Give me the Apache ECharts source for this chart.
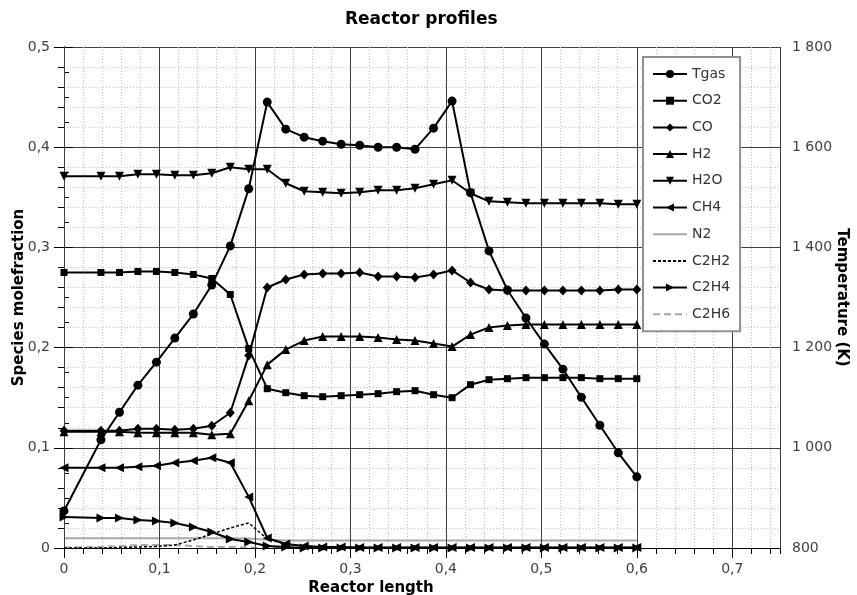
<!DOCTYPE html>
<html><head><meta charset="utf-8">
<script src="https://cdn.jsdelivr.net/npm/echarts@6/dist/echarts.min.js"></script>
<style>html,body{margin:0;padding:0;background:#fff}#c{width:857px;height:595px}</style>
</head><body><div id="c"></div>
<script>
// Reactor length positions (m)
const X = [0, 0.0387, 0.0581, 0.0774, 0.0968, 0.1161, 0.1355, 0.1548, 0.1742, 0.1935,
  0.2129, 0.2323, 0.2516, 0.2710, 0.2903, 0.3097, 0.3290, 0.3484, 0.3677, 0.3871,
  0.4065, 0.4258, 0.4452, 0.4645, 0.4839, 0.5032, 0.5226, 0.5419, 0.5613, 0.5806, 0.6];
// Gas temperature (K), right axis
const TGAS = [874, 1016, 1071, 1125, 1171, 1219, 1267, 1325, 1403, 1517,
  1690, 1636, 1620, 1612, 1606, 1604, 1600, 1600, 1596, 1638,
  1692, 1509, 1393, 1315, 1259, 1207, 1157, 1101, 1045, 990, 942];
// Species mole fractions, left axis
const CO2 = [0.275, 0.275, 0.275, 0.276, 0.276, 0.275, 0.273, 0.269, 0.253, 0.199,
  0.159, 0.155, 0.152, 0.151, 0.152, 0.153, 0.154, 0.156, 0.157, 0.153,
  0.150, 0.163, 0.168, 0.169, 0.170, 0.170, 0.170, 0.170, 0.169, 0.169, 0.169];
const CO = [0.117, 0.117, 0.117, 0.119, 0.119, 0.118, 0.119, 0.122, 0.135, 0.192,
  0.260, 0.268, 0.273, 0.274, 0.274, 0.275, 0.271, 0.271, 0.270, 0.273,
  0.277, 0.265, 0.258, 0.257, 0.257, 0.257, 0.257, 0.257, 0.257, 0.258, 0.258];
const H2 = [0.116, 0.116, 0.116, 0.115, 0.115, 0.115, 0.115, 0.113, 0.114, 0.147,
  0.183, 0.198, 0.207, 0.211, 0.211, 0.211, 0.210, 0.208, 0.207, 0.204,
  0.201, 0.213, 0.220, 0.222, 0.223, 0.223, 0.223, 0.223, 0.223, 0.223, 0.223];
const H2O = [0.371, 0.371, 0.371, 0.373, 0.373, 0.372, 0.372, 0.374, 0.380, 0.378,
  0.378, 0.364, 0.356, 0.355, 0.354, 0.355, 0.357, 0.357, 0.359, 0.363,
  0.367, 0.354, 0.346, 0.345, 0.344, 0.344, 0.344, 0.344, 0.344, 0.343, 0.343];
const CH4 = [0.080, 0.080, 0.080, 0.081, 0.082, 0.085, 0.087, 0.090, 0.085, 0.051,
  0.010, 0.004, 0.002, 0.001, 0.001, 0.0005, 0.0005, 0.0005, 0.0005, 0.0005,
  0.0005, 0.0005, 0.0005, 0.0005, 0.0005, 0.0005, 0.0005, 0.0005, 0.0005, 0.0005, 0.0005];
const N2 = [0.0097, 0.0097, 0.0097, 0.0097, 0.0097, 0.0097, 0.0097, 0.0097, 0.0097, 0.0095,
  0.0082, 0.0076, 0.0074, 0.0074, 0.0074, 0.0074, 0.0074, 0.0074, 0.0074, 0.0074,
  0.0074, 0.0074, 0.0074, 0.0074, 0.0074, 0.0074, 0.0074, 0.0074, 0.0074, 0.0074, 0.0074];
const C2H2 = [0, 0, 0.0005, 0.001, 0.0015, 0.003, 0.008, 0.014, 0.020, 0.025,
  0.009, 0.004, 0.002, 0.001, 0.001, 0.0005, 0.0005, 0.0005, 0.0005, 0.0005,
  0.0005, 0.0005, 0.0005, 0.0005, 0.0005, 0.0005, 0.0005, 0.0005, 0.0005, 0.0005, 0.0005];
const C2H4 = [0.031, 0.030, 0.030, 0.028, 0.027, 0.025, 0.021, 0.016, 0.009, 0.006,
  0.002, 0.001, 0, 0, 0, 0, 0, 0, 0, 0,
  0, 0, 0, 0, 0, 0, 0, 0, 0, 0, 0];
const C2H6 = [0.0005, 0.001, 0.002, 0.003, 0.003, 0.003, 0.002, 0.001, 0.001, 0.0005,
  0, 0, 0, 0, 0, 0, 0, 0, 0, 0,
  0, 0, 0, 0, 0, 0, 0, 0, 0, 0, 0];
const LEGEND = ['Tgas', 'CO2', 'CO', 'H2', 'H2O', 'CH4', 'N2', 'C2H2', 'C2H4', 'C2H6'];
const LINE_ONLY = ['N2', 'C2H2', 'C2H6'];

const FONT = 'DejaVu Sans';
const pairs = arr => X.map((x, i) => [x, arr[i]]);
const dec = v => v === 0 ? '0' : String(+v.toFixed(2)).replace('.', ',');
const thou = v => v >= 1000 ? Math.floor(v / 1000) + ' ' + String(v % 1000).padStart(3, '0') : String(v);

function blackSeries(name, arr, symbol, size, rotate, axis) {
  return {
    name, type: 'line', data: pairs(arr), yAxisIndex: axis || 0, xAxisIndex: 0,
    symbol, symbolSize: size, symbolRotate: rotate || 0, showSymbol: true,
    lineStyle: { color: '#000', width: 2 }, itemStyle: { color: '#000' },
    z: 5, animation: false
  };
}

const series = [
  { name: 'N2', type: 'line', data: pairs(N2), symbol: 'none', lineStyle: { color: '#a8a8a8', width: 2 }, itemStyle: { color: '#a8a8a8' }, z: 2, animation: false },
  { name: 'C2H6', type: 'line', data: pairs(C2H6), symbol: 'none', lineStyle: { color: '#a8a8a8', width: 2, type: [7, 4] }, itemStyle: { color: '#a8a8a8' }, z: 2, animation: false },
  { name: 'C2H2', type: 'line', data: pairs(C2H2), symbol: 'none', lineStyle: { color: '#000', width: 1.5, type: [3, 2] }, itemStyle: { color: '#000' }, z: 3, animation: false },
  blackSeries('C2H4', C2H4, 'triangle', 9, -90),
  blackSeries('CH4', CH4, 'triangle', 9, 90),
  blackSeries('CO2', CO2, 'rect', 7),
  blackSeries('CO', CO, 'diamond', [9, 10]),
  blackSeries('H2', H2, 'triangle', 9),
  blackSeries('H2O', H2O, 'triangle', 9, 180),
  Object.assign(blackSeries('Tgas', TGAS, 'circle', 9, 0, 1), { z: 6 })
];

const legendData = LEGEND.map(n => LINE_ONLY.includes(n) ? { name: n, itemStyle: { opacity: 0 } } : { name: n });

const chart = echarts.init(document.getElementById('c'), null, { renderer: 'canvas' });
chart.setOption({
  animation: false,
  backgroundColor: '#fff',
  textStyle: { fontFamily: FONT },
  title: {
    text: 'Reactor profiles', left: 340, top: 6,
    textStyle: { fontFamily: FONT, fontSize: 17, fontWeight: 'bold', color: '#000' }
  },
  grid: { left: 64, right: 77, top: 47, bottom: 47, containLabel: false, outerBoundsMode: 'none' },
  legend: {
    data: legendData, orient: 'vertical', left: 643, top: 57,
    padding: [10, 10, 10, 9], itemGap: 12.7, itemWidth: 34, itemHeight: 10,
    backgroundColor: '#fff', borderColor: '#909090', borderWidth: 2, borderRadius: 0,
    textStyle: { fontFamily: FONT, fontSize: 14, color: '#333' }, z: 10
  },
  xAxis: [
    {
      type: 'value', min: 0, max: 0.75, interval: 0.1, position: 'bottom',
      name: 'Reactor length', nameLocation: 'middle', nameGap: 32,
      nameTextStyle: { fontFamily: FONT, fontSize: 15, fontWeight: 'bold', color: '#000', padding: [0, 102, 0, 0] },
      axisLine: { show: true, lineStyle: { color: '#000', width: 1 } },
      axisTick: { show: true, length: 10, lineStyle: { color: '#000' } },
      axisLabel: { fontFamily: FONT, fontSize: 14, color: '#404040', margin: 14, formatter: dec, showMaxLabel: false },
      splitLine: { show: true, lineStyle: { color: '#404040', width: 1 } },
      z: 3
    },
    {
      type: 'value', min: 0, max: 0.75, interval: 0.02, position: 'bottom',
      axisLine: { show: false },
      axisTick: { show: true, length: 6, lineStyle: { color: '#000' } },
      axisLabel: { show: false },
      splitLine: { show: true, lineStyle: { color: '#c4c4c4', width: 1, type: [1, 2] } },
      z: 1
    }
  ],
  yAxis: [
    {
      type: 'value', min: 0, max: 0.5, interval: 0.1, position: 'left',
      name: 'Species molefraction', nameLocation: 'middle', nameGap: 37, nameRotate: 90, nameMoveOverlap: false,
      nameTextStyle: { fontFamily: FONT, fontSize: 15, fontWeight: 'bold', color: '#000' },
      axisLine: { show: true, lineStyle: { color: '#000', width: 1 } },
      axisTick: { show: true, length: 10, lineStyle: { color: '#000' } },
      minorTick: { show: true, splitNumber: 5, length: 6, lineStyle: { color: '#000' } },
      axisLabel: { fontFamily: FONT, fontSize: 14, color: '#404040', margin: 14, formatter: dec },
      splitLine: { show: true, lineStyle: { color: '#404040', width: 1 } },
      minorSplitLine: { show: true, lineStyle: { color: '#c4c4c4', width: 1, type: [1, 2] } }
    },
    {
      type: 'value', min: 800, max: 1800, interval: 200, position: 'right',
      name: 'Temperature (K)', nameLocation: 'middle', nameGap: 54, nameRotate: -90, nameMoveOverlap: false,
      nameTextStyle: { fontFamily: FONT, fontSize: 15, fontWeight: 'bold', color: '#000' },
      axisLine: { show: true, lineStyle: { color: '#000', width: 1 } },
      axisTick: { show: true, length: 9, lineStyle: { color: '#000' } },
      minorTick: { show: true, splitNumber: 4, length: 5, lineStyle: { color: '#000' } },
      axisLabel: { fontFamily: FONT, fontSize: 14, color: '#404040', margin: 12, formatter: thou },
      splitLine: { show: false }
    }
  ],
  series
});
</script></body></html>
